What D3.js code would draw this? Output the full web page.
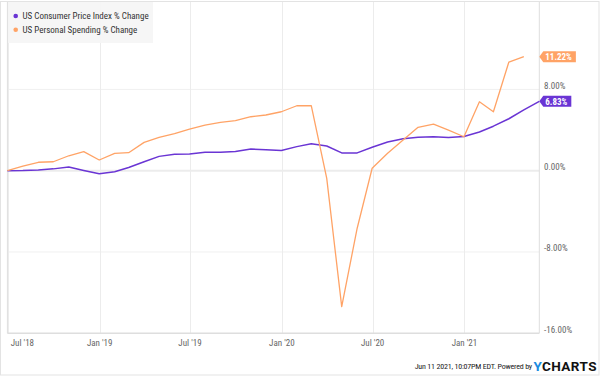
<!DOCTYPE html>
<html>
  <head>
    <script type="text/javascript" src="https://cdn.jsdelivr.net/npm/d3@7"></script>
    <style>
      body { margin: 0; background: #fff; }
      text { font-family: "Roboto Condensed", "Liberation Sans Narrow", Roboto, sans-serif; }
    </style>
  </head>
  <body>
    <script>

// months (month-end dates in the chart)
var months = ["Jun 2018","Jul 2018","Aug 2018","Sep 2018","Oct 2018","Nov 2018","Dec 2018",
  "Jan 2019","Feb 2019","Mar 2019","Apr 2019","May 2019","Jun 2019","Jul 2019","Aug 2019","Sep 2019","Oct 2019","Nov 2019","Dec 2019",
  "Jan 2020","Feb 2020","Mar 2020","Apr 2020","May 2020","Jun 2020","Jul 2020","Aug 2020","Sep 2020","Oct 2020","Nov 2020","Dec 2020",
  "Jan 2021","Feb 2021","Mar 2021","Apr 2021","May 2021"];

// US Consumer Price Index % Change
var cpi = [0, 0.01, 0.06, 0.18, 0.36, 0.02, -0.30,
  -0.11, 0.31, 0.88, 1.41, 1.63, 1.65, 1.82, 1.81, 1.89, 2.13, 2.07, 1.98,
  2.37, 2.65, 2.43, 1.75, 1.75, 2.31, 2.82, 3.15, 3.29, 3.33, 3.27, 3.37,
  3.81, 4.38, 5.11, 5.98, 6.83];

// US Personal Spending % Change (one month shorter)
var spending = [0, 0.44, 0.83, 0.88, 1.47, 1.87, 1.05,
  1.71, 1.77, 2.79, 3.28, 3.64, 4.10, 4.49, 4.76, 4.92, 5.31, 5.48, 5.80,
  6.39, 6.41, -0.75, -13.37, -5.66, 0.24, 1.71, 3.02, 4.27, 4.59, 4.00, 3.34,
  6.78, 5.80, 10.69, 11.22];

var seriesNames = ["US Consumer Price Index % Change", "US Personal Spending % Change"];
var seriesColors = ["#6a35d4", "#ffa366"];

var xTicks = ["Jul 2018","Jan 2019","Jul 2019","Jan 2020","Jul 2020","Jan 2021"];
var xTickLabels = ["Jul '18","Jan '19","Jul '19","Jan '20","Jul '20","Jan '21"];
var yTicks = [-16, -8, 0, 8];
var yTickLabels = ["-16.00%","-8.00%","0.00%","8.00%"];

var W = 600, H = 376;
// (window.top is reserved, so plot edges get their own names)
var plotLeft = 7.4, plotRight = 539.3, plotTop = 2, plotBottom = 333.3;

var parseMonth = d3.timeParse("%b %Y");
//month-end date
function monthEnd(s) { return d3.timeDay.offset(d3.timeMonth.offset(parseMonth(s), 1), -1); }

var dates = months.map(monthEnd);

var x = d3.scaleTime()
  .domain([dates[0], dates[dates.length - 1]])
  .range([plotLeft, plotRight]);

var y = d3.scaleLinear()
  .domain([-16, 16.6])
  .range([plotBottom, plotTop]);

var svg = d3.select("body").append("svg")
  .attr("width", W)
  .attr("height", H);

// outer frame
svg.append("rect")
  .attr("x", 0.5).attr("y", 1.5)
  .attr("width", W - 1.5).attr("height", H - 2.5)
  .attr("fill", "none")
  .attr("stroke", "#e3e3e3");

// horizontal grid
svg.selectAll(".hgrid")
  .data(yTicks.filter(function (d) { return d > -16; }))
  .enter().append("line")
  .attr("x1", plotLeft).attr("x2", plotRight)
  .attr("y1", function (d) { return y(d); })
  .attr("y2", function (d) { return y(d); })
  .attr("stroke", function (d) { return d == 0 ? "#ececec" : "#f0f0f0"; })
  .attr("stroke-width", function (d) { return d == 0 ? 2 : 1; });

// vertical grid
var tickDates = xTicks.map(parseMonth);
svg.selectAll(".vgrid")
  .data(tickDates)
  .enter().append("line")
  .attr("x1", function (d) { return Math.round(x(d)) + 0.5; })
  .attr("x2", function (d) { return Math.round(x(d)) + 0.5; })
  .attr("y1", plotTop).attr("y2", plotBottom)
  .attr("stroke", "#ececec");

// plot borders
svg.append("line").attr("x1", plotLeft).attr("x2", plotLeft).attr("y1", plotTop).attr("y2", plotBottom)
  .attr("stroke", "#dedede");
svg.append("line").attr("x1", plotRight).attr("x2", plotRight).attr("y1", plotTop).attr("y2", plotBottom)
  .attr("stroke", "#dedede");
svg.append("line").attr("x1", plotLeft).attr("x2", plotRight).attr("y1", plotBottom).attr("y2", plotBottom)
  .attr("stroke", "#dedede").attr("stroke-width", 1.5);

// x labels
svg.selectAll(".xlab")
  .data(tickDates)
  .enter().append("text")
  .attr("x", function (d, i) { return i == 0 ? plotLeft + 15 : x(d); })
  .attr("y", 345.5)
  .attr("text-anchor", "middle")
  .attr("font-size", 9)
  .attr("fill", "#666")
  .text(function (d, i) { return xTickLabels[i]; });

// y labels (right)
svg.selectAll(".ylab")
  .data(yTicks)
  .enter().append("text")
  .attr("x", 544)
  .attr("y", function (d) { return y(d) - 0.5; })
  .attr("font-size", 9)
  .attr("fill", "#666")
  .text(function (d, i) { return yTickLabels[i]; });

// lines
var line = d3.line()
  .x(function (d, i) { return x(dates[i]); })
  .y(function (d) { return y(d); });

[cpi, spending].forEach(function (s, k) {
  svg.append("path")
    .datum(s)
    .attr("d", line)
    .attr("fill", "none")
    .attr("stroke", seriesColors[k])
    .attr("stroke-width", k == 0 ? 1.5 : 1.3)
    .attr("stroke-linejoin", "round");
});

// end value flags
[cpi, spending].forEach(function (s, k) {
  var v = s[s.length - 1];
  var cy = y(v);
  var label = v.toFixed(2) + "%";
  var g = svg.append("g");
  var t = g.append("text")
    .attr("x", plotRight + 6)
    .attr("y", cy + 3.3)
    .attr("font-size", 9)
    .attr("font-weight", "bold")
    .attr("fill", "#fff")
    .text(label);
  var w = t.node().getComputedTextLength();
  g.insert("path", "text")
    .attr("d", "M" + plotRight + "," + cy + "L" + (plotRight + 4) + "," + (cy - 5.5) +
      "L" + (plotRight + w + 10) + "," + (cy - 5.5) + "L" + (plotRight + w + 10) + "," + (cy + 5.5) +
      "L" + (plotRight + 4) + "," + (cy + 5.5) + "Z")
    .attr("fill", seriesColors[k]);
});

// legend
var legend = svg.append("g");
legend.append("rect")
  .attr("x", 8).attr("y", 2)
  .attr("width", 145).attr("height", 41)
  .attr("fill", "#f5f5f5")
  .attr("opacity", 0.92);
seriesNames.forEach(function (n, i) {
  legend.append("circle")
    .attr("cx", 15.7).attr("cy", 16 + i * 13.7)
    .attr("r", 2.3)
    .attr("fill", seriesColors[i]);
  legend.append("text")
    .attr("x", 22.5).attr("y", 19.2 + i * 13.7)
    .attr("font-size", 9)
    .attr("fill", "#333")
    .text(n);
});

// footer
var foot = svg.append("text")
  .attr("x", 532)
  .attr("y", 369)
  .attr("text-anchor", "end")
  .attr("font-size", 8)
  .attr("letter-spacing", -0.2)
  .attr("fill", "#222")
  .text("Jun 11 2021, 10:07PM EDT.  Powered by");
var logo = svg.append("text")
  .attr("x", 533.5)
  .attr("y", 370.5)
  .attr("font-size", 13.5)
  .attr("font-weight", "bold")
  .attr("letter-spacing", 0.4)
  .style("font-family", "Roboto, sans-serif");
logo.append("tspan").attr("fill", "#1a8be0").text("Y");
logo.append("tspan").attr("fill", "#111").text("CHARTS");

    </script>
  </body>
</html>
